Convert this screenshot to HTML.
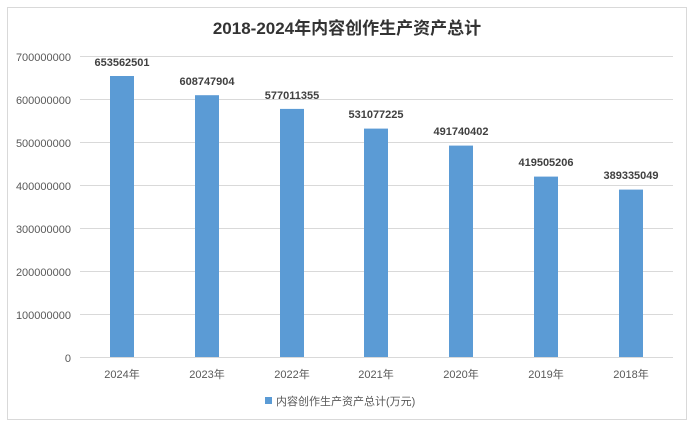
<!DOCTYPE html><html><head><meta charset="utf-8"><style>
body{margin:0;background:#fff;width:694px;height:429px;overflow:hidden;font-family:"Liberation Sans","Noto Sans CJK SC",sans-serif}
</style></head><body>
<svg width="694" height="429" xmlns="http://www.w3.org/2000/svg" font-family="Liberation Sans, Noto Sans CJK SC, sans-serif">
<rect x="7.5" y="7.5" width="679" height="412" fill="#fff" stroke="#d9d9d9"/>
<text x="347" y="34" text-anchor="middle" font-size="17" font-weight="bold" fill="#333">2018-2024年内容创作生产资产总计</text>
<g stroke="#d9d9d9" stroke-width="1">
<line x1="80" x2="673" y1="56.5" y2="56.5"/><line x1="80" x2="673" y1="99.5" y2="99.5"/><line x1="80" x2="673" y1="142.5" y2="142.5"/><line x1="80" x2="673" y1="185.5" y2="185.5"/><line x1="80" x2="673" y1="228.5" y2="228.5"/><line x1="80" x2="673" y1="271.5" y2="271.5"/><line x1="80" x2="673" y1="314.5" y2="314.5"/><line x1="80" x2="673" y1="357.5" y2="357.5"/>
</g>
<g font-size="11" fill="#595959" text-anchor="end">
<text x="71" y="61">700000000</text><text x="71" y="104">600000000</text><text x="71" y="147">500000000</text><text x="71" y="190">400000000</text><text x="71" y="233">300000000</text><text x="71" y="276">200000000</text><text x="71" y="319">100000000</text><text x="71" y="362">0</text>
</g>
<g fill="#5b9bd5">
<rect x="110" y="76.0" width="24" height="281"/>
<rect x="195" y="95.2" width="24" height="261.8"/>
<rect x="280" y="108.9" width="24" height="248.1"/>
<rect x="364" y="128.6" width="24" height="228.4"/>
<rect x="449" y="145.6" width="24" height="211.4"/>
<rect x="534" y="176.6" width="24" height="180.4"/>
<rect x="619" y="189.6" width="24" height="167.4"/>
</g>
<g font-size="11" font-weight="bold" fill="#404040" text-anchor="middle">
<text x="122" y="66">653562501</text><text x="207" y="85">608747904</text><text x="292" y="99">577011355</text><text x="376" y="118">531077225</text><text x="461" y="135">491740402</text><text x="546" y="166">419505206</text><text x="631" y="179">389335049</text>
</g>
<g font-size="11" fill="#595959" text-anchor="middle">
<text x="122" y="378">2024年</text><text x="207" y="378">2023年</text><text x="292" y="378">2022年</text><text x="376" y="378">2021年</text><text x="461" y="378">2020年</text><text x="546" y="378">2019年</text><text x="631" y="378">2018年</text>
</g>
<rect x="265" y="397" width="7" height="7" fill="#5b9bd5"/>
<text x="276" y="405" font-size="11" fill="#595959">内容创作生产资产总计(万元)</text>
</svg>
</body></html>
